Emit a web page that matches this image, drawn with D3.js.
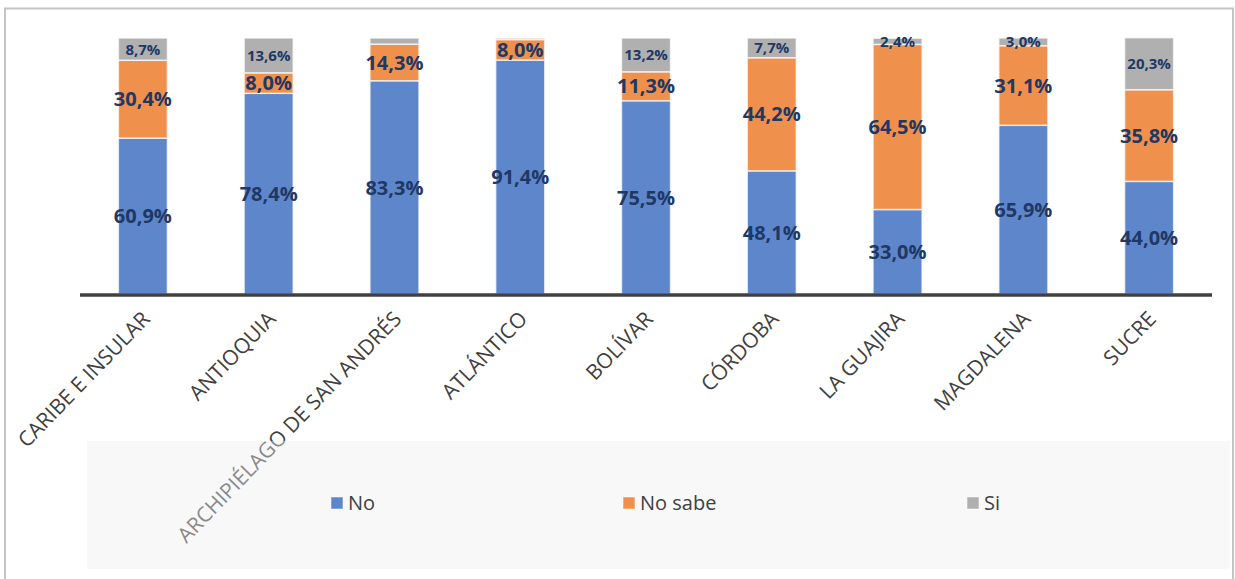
<!DOCTYPE html>
<html>
<head>
<meta charset="utf-8">
<script src="https://cdn.jsdelivr.net/npm/d3@7"></script>
<style>
  html, body { margin: 0; padding: 0; background: #fff; }
  svg { display: block; font-family: "Open Sans", "Noto Sans", sans-serif; }
</style>
</head>
<body>
<svg id="chart" width="1235" height="579"></svg>
<script>
const categories = ["CARIBE E INSULAR", "ANTIOQUIA", "ARCHIPIÉLAGO DE SAN ANDRÉS", "ATLÁNTICO", "BOLÍVAR", "CÓRDOBA", "LA GUAJIRA", "MAGDALENA", "SUCRE"];
const seriesNames = ["No", "No sabe", "Si"];
const noValues     = [60.9, 78.4, 83.3, 91.4, 75.5, 48.1, 33.0, 65.9, 44.0];
const noSabeValues = [30.4, 8.0, 14.3, 8.0, 11.3, 44.2, 64.5, 31.1, 35.8];
const siValues     = [8.7, 13.6, 2.4, 0.6, 13.2, 7.7, 2.4, 3.0, 20.3];
const siLabelShown = [true, true, false, false, true, true, true, true, true];
const colors = ["#5E87CB", "#F0904D", "#B0B0B0"];

const svg = d3.select("#chart");

// frame
svg.append("rect").attr("x", 5).attr("y", 8.5).attr("width", 1228).attr("height", 580)
  .attr("fill", "#fff").attr("stroke", "#C4C4C4").attr("stroke-width", 2);

const x = d3.scaleBand().domain(categories).range([80, 1212]).paddingInner(0.61).paddingOuter(0.305);
const y = d3.scaleLinear().domain([0, 100]).range([294, 38]);

const rows = categories.map((c, i) => ({cat: c, "No": noValues[i], "No sabe": noSabeValues[i], "Si": siValues[i], i}));
const stack = d3.stack().keys(seriesNames)(rows);

const g = svg.append("g");
stack.forEach((layer, li) => {
  g.selectAll(null).data(layer).enter().append("rect")
    .attr("x", d => x(d.data.cat))
    .attr("width", x.bandwidth())
    .attr("y", d => y(d[1]))
    .attr("height", d => y(d[0]) - y(d[1]))
    .attr("fill", colors[li])
    .attr("stroke", "#fff").attr("stroke-opacity", 0.7).attr("stroke-width", 1.5);
});

// labels
const fmt = v => v.toFixed(1).replace(".", ",") + "%";
stack.forEach((layer, li) => {
  g.selectAll(null).data(layer.filter(d => li < 2 || siLabelShown[d.data.i])).enter().append("text")
    .attr("x", d => x(d.data.cat) + x.bandwidth() / 2)
    .attr("y", d => (y(d[0]) + y(d[1])) / 2)
    .attr("dy", "0.36em")
    .attr("text-anchor", "middle")
    .attr("font-weight", "bold")
    .attr("font-size", li < 2 ? 20 : 15)
    .attr("fill", "#203864")
    .text(d => fmt(d[1] - d[0]));
});

// x axis line
svg.append("line").attr("x1", 80).attr("x2", 1212).attr("y1", 295).attr("y2", 295)
  .attr("stroke", "#404040").attr("stroke-width", 3.5);

// category labels
svg.append("g").selectAll("text").data(categories).enter().append("text")
  .attr("transform", d => `translate(${x(d) + x.bandwidth() / 2 + 3},${315}) rotate(-46)`)
  .attr("text-anchor", "end")
  .attr("dy", "0.35em")
  .attr("font-size", 21)
  .attr("fill", "#404040")
  .text(d => d);

// legend box (semi-transparent, drawn over labels)
svg.append("rect").attr("x", 87).attr("y", 441).attr("width", 1143).attr("height", 128)
  .attr("fill", "rgb(238,238,238)").attr("fill-opacity", 0.42);

const legendX = [331, 623, 967];
const lg = svg.append("g");
seriesNames.forEach((s, i) => {
  lg.append("rect").attr("x", legendX[i]).attr("y", 497).attr("width", 12).attr("height", 12)
    .attr("fill", colors[i]).attr("stroke", "#fff").attr("stroke-opacity", 0.5);
  lg.append("text").attr("x", legendX[i] + 17).attr("y", 503).attr("dy", "0.36em")
    .attr("font-size", 20).attr("fill", "#404040").text(s);
});
</script>
</body>
</html>
